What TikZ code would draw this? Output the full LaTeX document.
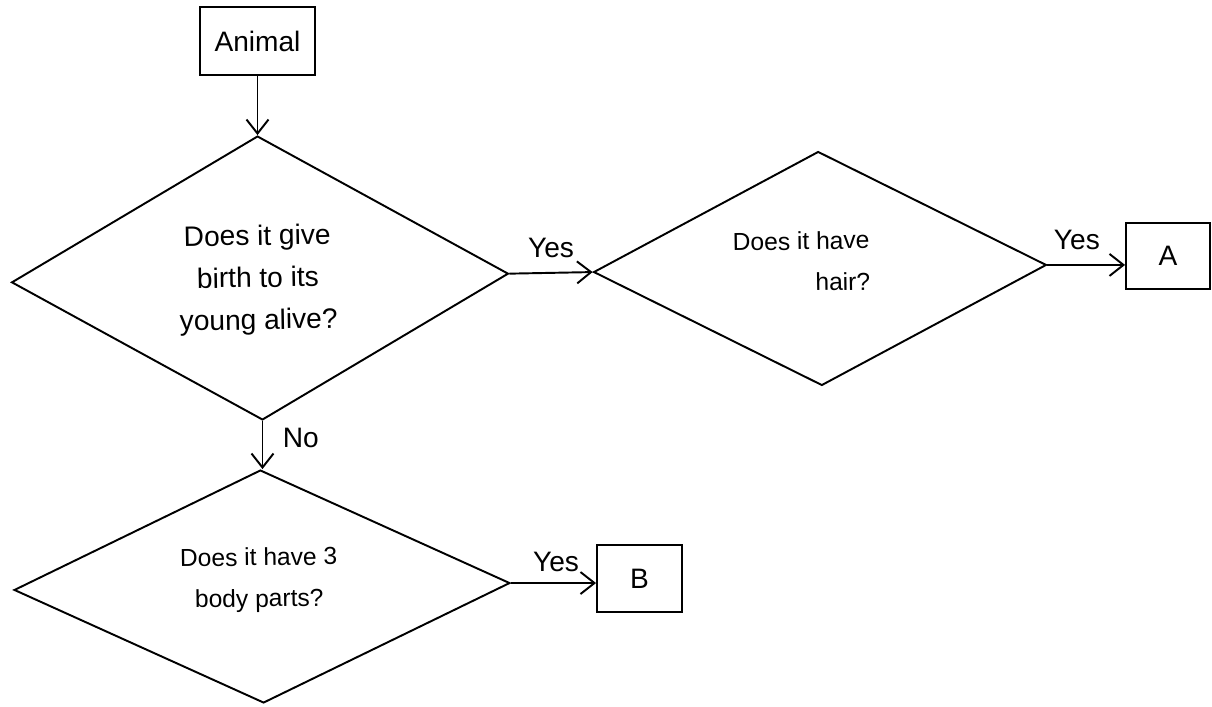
\documentclass[tikz,border=0pt]{standalone}
\usepackage{fontspec}
\setmainfont{Liberation Sans}
\usetikzlibrary{shapes.geometric,arrows.meta}
\begin{document}
\begin{tikzpicture}[x=0.02cm,y=-0.02cm,
  every node/.style={font=\fontsize{16}{24}\selectfont},
  small/.style={font=\fontsize{14}{23.5}\selectfont},
  line/.style={line width=1.1pt},
  arr/.style={line, -{Straight Barb[length=0.28cm,width=0.44cm,line width=1.1pt]}},
  rbox/.style={draw,line width=1.1pt,inner sep=0pt},
  decision/.style={draw,diamond,line width=1.1pt,inner sep=0pt,align=center},
  lbl/.style={inner sep=0pt}
]
\useasboundingbox (0,0) rectangle (1212,706);

\node[rbox,minimum width=2.3cm,minimum height=1.36cm] (animal) at (257.5,41) {Animal};
\node[decision,minimum width=9.94cm,minimum height=5.68cm,rotate=1.0] (d1) at (260,278) {};
\node[lbl,align=center,rotate=1.0] (d1t) at (258,280) {Does it give\\birth to its\\young alive?};
\node[decision,minimum width=9.06cm,minimum height=4.68cm,rotate=0.9] (d2) at (820,268.5) {};
\node[lbl,small,align=right,rotate=0.9] (d2t) at (801.5,261.5) {Does it have\\hair?};
\node[decision,minimum width=9.92cm,minimum height=4.66cm,rotate=0.8] (d3) at (262,586.5) {};
\node[lbl,small,align=center,rotate=0.8] (d3t) at (259,580) {Does it have 3\\body parts?};
\node[rbox,minimum width=1.68cm,minimum height=1.32cm] (a) at (1168,256) {A};
\node[rbox,minimum width=1.7cm,minimum height=1.34cm] (b) at (639.5,578.5) {B};

\draw[arr] (animal.south) -- (animal.south |- d1.north);
\draw[arr] (d1.east) -- node[lbl,pos=0.5,above=8pt] (y1) {Yes} (d2.west);
\draw[arr] (d2.east) -- node[lbl,pos=0.38,above=8pt] (y2) {Yes} (d2.east -| a.west);
\draw[arr] (d1.south) -- node[lbl,pos=0.35,right=11pt] (no) {No} (d1.south |- d3.north);
\draw[arr] (d3.east) -- node[lbl,pos=0.53,above=6pt] (y3) {Yes} (d3.east -| b.west);
\end{tikzpicture}
\end{document}
